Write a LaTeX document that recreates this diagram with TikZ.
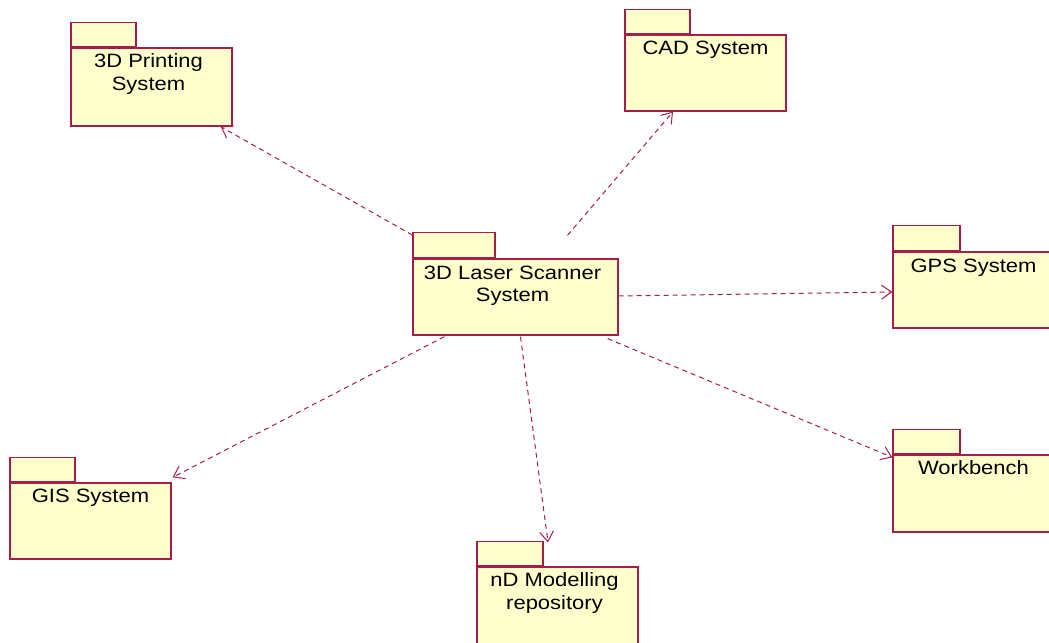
\documentclass[tikz,border=0pt]{standalone}
\usepackage{fontspec}
\setmainfont{Liberation Sans}[FakeStretch=1.14]
\usetikzlibrary{arrows.meta,calc}
\definecolor{umlred}{RGB}{165,30,75}
\definecolor{umlfill}{RGB}{255,255,204}
\begin{document}
\begin{tikzpicture}[x=1bp,y=1bp,
  pkgbody/.style={draw=umlred, fill=umlfill, line width=1.3bp, minimum width=161bp, minimum height=76bp, inner sep=0pt},
  pkgtab/.style={draw=umlred, fill=umlfill, line width=1.3bp, minimum width=65bp, minimum height=24bp, inner sep=0pt, anchor=south west},
  pkgtext/.style={anchor=north, inner sep=0pt, align=center, font=\fontsize{19.3bp}{22.5bp}\selectfont},
  dep/.style={draw=umlred, line width=1bp, dash pattern=on 5bp off 4bp, -{Straight Barb[length=10bp,width=14bp]}}]
\useasboundingbox (0,0) rectangle (1049,643);
% package bodies
\node[pkgbody, minimum height=78bp] (print) at (151.5,556) {};
\node[pkgbody] (cad) at (705.5,570) {};
\node[pkgbody, minimum width=205bp] (scan) at (515.5,346) {};
\node[pkgbody] (gps) at (973.5,353) {};
\node[pkgbody] (gis) at (90.5,122) {};
\node[pkgbody, minimum height=77bp] (work) at (973.5,149.5) {};
\node[pkgbody, minimum height=80bp] (nd) at (557.5,36) {};
% tabs
\node[pkgtab] (printtab) at (print.north west) {};
\node[pkgtab] (cadtab) at (cad.north west) {};
\node[pkgtab, minimum width=82bp, minimum height=25bp] (scantab) at (scan.north west) {};
\node[pkgtab, minimum width=67bp, minimum height=25bp] (gpstab) at (gps.north west) {};
\node[pkgtab] (gistab) at (gis.north west) {};
\node[pkgtab, minimum width=67bp] (worktab) at (work.north west) {};
\node[pkgtab, minimum width=66bp] (ndtab) at (nd.north west) {};
% texts
\node[pkgtext] (printtxt) at ($(print.north)+(-3,-6)$) {3D Printing\\System};
\node[pkgtext] (cadtxt) at ($(cad.north)+(0,-6)$) {CAD System};
\node[pkgtext] (scantxt) at ($(scan.north)+(-3,-7)$) {3D Laser Scanner\\System};
\node[pkgtext] (gpstxt) at ($(gps.north)+(0,-7)$) {GPS System};
\node[pkgtext] (gistxt) at ($(gis.north)+(0,-6)$) {GIS System};
\node[pkgtext] (worktxt) at ($(work.north)+(0,-6)$) {Workbench};
\node[pkgtext] (ndtxt) at ($(nd.north)+(-3,-6)$) {nD Modelling\\repository};
% dependencies
\draw[dep] ($(scantab.north west)+(0,-3)$) -- ($(print.south east)+(-12,0)$);
\draw[dep] ($(scan.north)+(52,23)$) -- ($(cad.south)+(-32.5,0)$);
\draw[dep] ($(scan.east)+(0,1)$) -- ($(gps.west)+(0,-2)$);
\draw[dep] ($(scan.south east)+(-11,-3)$) -- ($(work.north west)+(0,-3)$);
\draw[dep] ($(scan.south)+(5,-1)$) -- ($(nd.north)+(-9.5,24)$);
\draw[dep] ($(scan.south west)+(32,-1)$) -- ($(gis.north east)+(1,5)$);
\end{tikzpicture}
\end{document}
